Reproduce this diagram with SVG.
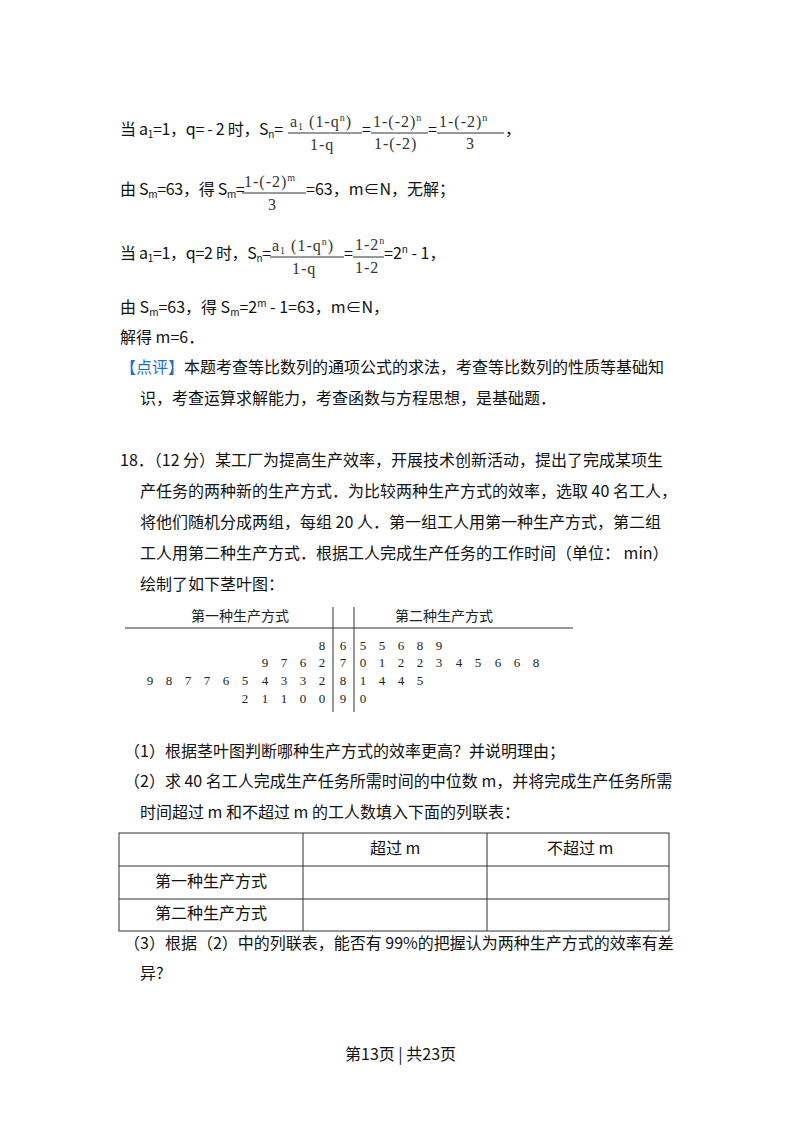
<svg xmlns="http://www.w3.org/2000/svg" width="800" height="1132" viewBox="0 0 800 1132">
<style>
.t{font-family:"Noto Sans CJK SC","Noto Sans",sans-serif;font-size:16px;fill:#111}
.s{font-size:10px}
.f{font-family:"Liberation Serif","DejaVu Serif",serif;font-size:16px;fill:#333;letter-spacing:1px}
.d{font-family:"Liberation Serif",serif;font-size:13px;fill:#222}
.h{font-family:"Noto Sans CJK SC",sans-serif;font-size:14px;fill:#222}
.b{fill:#1a6fd0}
line{stroke:#333;stroke-width:1}
</style>
<rect width="800" height="1132" fill="#fff"/>
<g id="eq1">
<text class="t" x="120" y="135" letter-spacing="-0.3">当 a<tspan class="s" dy="3">1</tspan><tspan dy="-3">=1，q= - 2 时，S</tspan><tspan class="s" dy="3">n</tspan><tspan dy="-3">=</tspan></text>
<text class="f" x="290" y="127">a<tspan font-size="10" dy="3">1</tspan><tspan dy="-3"> (1-q</tspan><tspan font-size="10" dy="-6">n</tspan><tspan dy="6">)</tspan></text>
<line x1="288" y1="133" x2="362" y2="133"/><text class="f" x="310" y="150">1-q</text>
<text class="t" x="362" y="135">=</text>
<text class="f" x="373" y="127">1-(-2)<tspan font-size="10" dy="-6">n</tspan></text>
<line x1="371" y1="133" x2="428" y2="133"/><text class="f" x="374" y="149">1-(-2)</text>
<text class="t" x="428" y="135">=</text>
<text class="f" x="439" y="127">1-(-2)<tspan font-size="10" dy="-6">n</tspan></text>
<line x1="437" y1="133" x2="504" y2="133"/><text class="f" x="466" y="149">3</text>
<text class="t" x="505" y="135">，</text>
</g>
<g id="eq2">
<text class="t" x="120" y="195" letter-spacing="-0.3">由 S<tspan class="s" dy="3">m</tspan><tspan dy="-3">=63，得 S</tspan><tspan class="s" dy="3">m</tspan><tspan dy="-3">=</tspan></text>
<text class="f" x="244" y="187">1-(-2)<tspan font-size="10" dy="-6">m</tspan></text>
<line x1="242" y1="193" x2="306" y2="193"/><text class="f" x="268" y="210">3</text>
<text class="t" x="306" y="195">=63，m∈N，无解；</text>
</g>
<g id="eq3">
<text class="t" x="120" y="259" letter-spacing="-0.3">当 a<tspan class="s" dy="3">1</tspan><tspan dy="-3">=1，q=2 时，S</tspan><tspan class="s" dy="3">n</tspan><tspan dy="-3">=</tspan></text>
<text class="f" x="272" y="251">a<tspan font-size="10" dy="3">1</tspan><tspan dy="-3"> (1-q</tspan><tspan font-size="10" dy="-6">n</tspan><tspan dy="6">)</tspan></text>
<line x1="270" y1="257" x2="344" y2="257"/><text class="f" x="292" y="274">1-q</text>
<text class="t" x="344" y="259">=</text>
<text class="f" x="355" y="250">1-2<tspan font-size="10" dy="-6">n</tspan></text>
<line x1="353" y1="257" x2="384" y2="257"/><text class="f" x="355" y="273">1-2</text>
<text class="t" x="384" y="259">=2<tspan class="s" dy="-6">n</tspan><tspan dy="6"> - 1，</tspan></text>
</g>
<g id="text1">
<text class="t" x="120" y="313">由 S<tspan class="s" dy="3">m</tspan><tspan dy="-3">=63，得 S</tspan><tspan class="s" dy="3">m</tspan><tspan dy="-3">=2</tspan><tspan class="s" dy="-6">m</tspan><tspan dy="6"> - 1=63，m∈N，</tspan></text>
<text class="t" x="120" y="343">解得 m=6．</text>
<text class="t" x="120" y="373"><tspan class="b">【点评】</tspan>本题考查等比数列的通项公式的求法，考查等比数列的性质等基础知</text>
<text class="t" x="140" y="404">识，考查运算求解能力，考查函数与方程思想，是基础题．</text>
<text class="t" x="120" y="466">18．（12 分）某工厂为提高生产效率，开展技术创新活动，提出了完成某项生</text>
<text class="t" x="140" y="497">产任务的两种新的生产方式．为比较两种生产方式的效率，选取 40 名工人，</text>
<text class="t" x="140" y="528">将他们随机分成两组，每组 20 人．第一组工人用第一种生产方式，第二组</text>
<text class="t" x="140" y="559">工人用第二种生产方式．根据工人完成生产任务的工作时间（单位： min）</text>
<text class="t" x="140" y="590">绘制了如下茎叶图：</text>
</g>
<g id="stemleaf">
<text class="h" x="191" y="621">第一种生产方式</text>
<text class="h" x="395" y="621">第二种生产方式</text>
<line x1="125" y1="628" x2="573" y2="628"/>
<line x1="333" y1="607" x2="333" y2="712"/>
<line x1="354" y1="607" x2="354" y2="712"/>
<g class="d" text-anchor="middle">
<text y="650"><tspan x="322">8</tspan><tspan x="343">6</tspan><tspan x="363">5</tspan><tspan x="382">5</tspan><tspan x="401">6</tspan><tspan x="420">8</tspan><tspan x="439">9</tspan></text>
<text y="667"><tspan x="265">9</tspan><tspan x="284">7</tspan><tspan x="303">6</tspan><tspan x="322">2</tspan><tspan x="343">7</tspan><tspan x="363">0</tspan><tspan x="382">1</tspan><tspan x="401">2</tspan><tspan x="420">2</tspan><tspan x="439">3</tspan><tspan x="459">4</tspan><tspan x="478">5</tspan><tspan x="498">6</tspan><tspan x="517">6</tspan><tspan x="536">8</tspan></text>
<text y="685"><tspan x="150">9</tspan><tspan x="169">8</tspan><tspan x="188">7</tspan><tspan x="207">7</tspan><tspan x="226">6</tspan><tspan x="245">5</tspan><tspan x="265">4</tspan><tspan x="284">3</tspan><tspan x="303">3</tspan><tspan x="322">2</tspan><tspan x="343">8</tspan><tspan x="363">1</tspan><tspan x="382">4</tspan><tspan x="401">4</tspan><tspan x="420">5</tspan></text>
<text y="703"><tspan x="245">2</tspan><tspan x="265">1</tspan><tspan x="284">1</tspan><tspan x="303">0</tspan><tspan x="322">0</tspan><tspan x="343">9</tspan><tspan x="363">0</tspan></text>
</g>
</g>
<g id="questions">
<text class="t" x="124" y="757">（1）根据茎叶图判断哪种生产方式的效率更高？并说明理由；</text>
<text class="t" x="124" y="787">（2）求 40 名工人完成生产任务所需时间的中位数 m，并将完成生产任务所需</text>
<text class="t" x="140" y="818">时间超过 m 和不超过 m 的工人数填入下面的列联表：</text>
</g>
<g id="table" fill="none">
<rect x="119" y="833" width="550" height="98" stroke="#333" fill="none"/>
<line x1="119" y1="866" x2="669" y2="866"/>
<line x1="119" y1="899" x2="669" y2="899"/>
<line x1="303" y1="833" x2="303" y2="931"/>
<line x1="487" y1="833" x2="487" y2="931"/>
<text class="t" x="370" y="854">超过 m</text>
<text class="t" x="547" y="854">不超过 m</text>
<text class="t" x="155" y="887">第一种生产方式</text>
<text class="t" x="155" y="919">第二种生产方式</text>
</g>
<g id="q3">
<text class="t" x="124" y="949">（3）根据（2）中的列联表，能否有 99%的把握认为两种生产方式的效率有差</text>
<text class="t" x="140" y="979">异?</text>
<text class="t" x="345" y="1060" font-size="13">第13页 | 共23页</text>
</g>
</svg>
